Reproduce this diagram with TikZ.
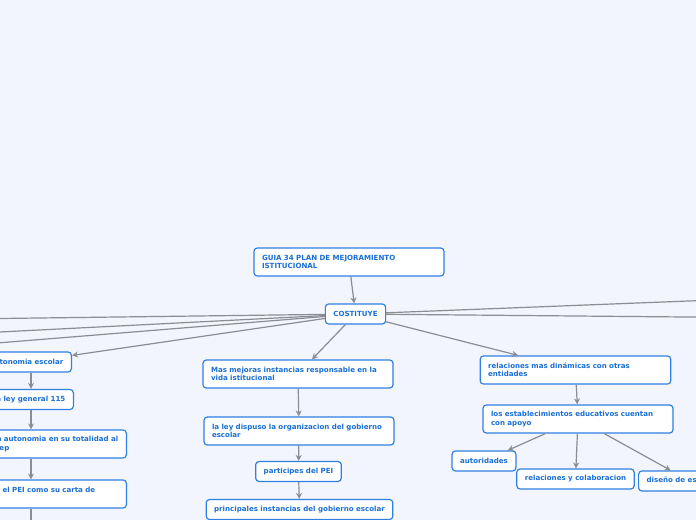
\documentclass[tikz,border=0pt]{standalone}
\usepackage{fontspec}
\setmainfont{DejaVu Sans}
\usetikzlibrary{arrows, arrows.meta}
\definecolor{bg}{HTML}{F2F5FD}
\definecolor{edge}{HTML}{2F80E3}
\definecolor{ink}{HTML}{1A6FD6}
\definecolor{wire}{HTML}{8A8D94}
\tikzset{
  topic/.style={draw=edge, fill=white, line width=0.9pt, rounded corners=2.5pt, text=ink, font=\fontsize{5.3}{6.2}\selectfont\bfseries, inner xsep=6pt, inner ysep=2pt, minimum height=15pt},
  topicw/.style={topic, align=left, minimum height=21pt},
  link/.style={-{Stealth[length=4.5pt, width=4.5pt]}, draw=wire, line width=0.9pt}
}
\begin{document}
\begin{tikzpicture}[x=0.75pt, y=-0.75pt]
		\useasboundingbox[fill=bg] (0,0) rectangle (696,520);
		\clip (0,0) rectangle (696,520);
		\node[topicw, text width=130.5pt] (g) at (349,262) {GUIA 34 PLAN DE MEJORAMIENTO\\ISTITUCIONAL};
		\node[topic] (c) at (355.5,314) {COSTITUYE};
		% izquierda
		\node[topic, anchor=east] (l1) at (72,362) {autonomia escolar};
		\node[topic, anchor=east] (l2) at (74,399.5) {la ley general 115};
		\node[topicw, anchor=east, text width=93pt] (l3) at (127,444) {la autonomia en su totalidad al\\pep};
		\node[topicw, anchor=east, text width=109.5pt] (l4) at (127,494) {adopta el PEI como su carta de\\ruta};
		\coordinate (lx) at (31,0);
		% centro
		\node[topicw, text width=130.5pt] (m1) at (298,374) {Mas mejoras instancias responsable en la\\vida istitucional};
		\node[topicw, text width=130.5pt] (m2) at (299,431) {la ley dispuso la organizacion del gobierno\\escolar};
		\node[topic] (m3) at (298.5,471.5) {participes del PEI};
		\node[topic] (m4) at (299.5,509.5) {principales instancias del gobierno escolar};
		% derecha
		\node[topicw, text width=131pt] (r1) at (575.5,370) {relaciones mas dinámicas con otras\\entidades};
		\node[topicw, text width=130.5pt] (r2) at (578,419) {los establecimientos educativos cuentan\\con apoyo};
		\node[topic] (r3) at (484,461) {autoridades};
		\node[topic] (r4) at (575.5,479) {relaciones y colaboracion};
		\node[topic, anchor=west] (r5) at (638,481) {diseño de estrategias};
		% ramas fuera del cuadro
		\coordinate (o1) at (-40,319);
		\coordinate (o2) at (-40,334);
		\coordinate (o3) at (-40,346);
		\coordinate (o4) at (740,299);
		\coordinate (o5) at (740,317.5);
		\coordinate (o6) at (31,560);
		\draw[link] (g) -- (c);
		\draw[link] (c) -- (o1); \draw[link] (c) -- (o2); \draw[link] (c) -- (o3);
		\draw[link] (c) -- (o4); \draw[link] (c) -- (o5);
		\draw[link] (c) -- (l1); \draw[link] (c) -- (m1); \draw[link] (c) -- (r1);
		\draw[link] (l1.south -| lx) -- (lx |- l2.north);
		\draw[link] (l2.south -| lx) -- (lx |- l3.north);
		\draw[link] (l3.south -| lx) -- (lx |- l4.north);
		\draw[link] (l4.south -| lx) -- (o6);
		\draw[link] (m1) -- (m2); \draw[link] (m2) -- (m3); \draw[link] (m3) -- (m4);
		\draw[link] (r1) -- (r2);
		\draw[link] (r2) -- (r3); \draw[link] (r2) -- (r4); \draw[link] (r2) -- (r5);
	\end{tikzpicture}
\end{document}
